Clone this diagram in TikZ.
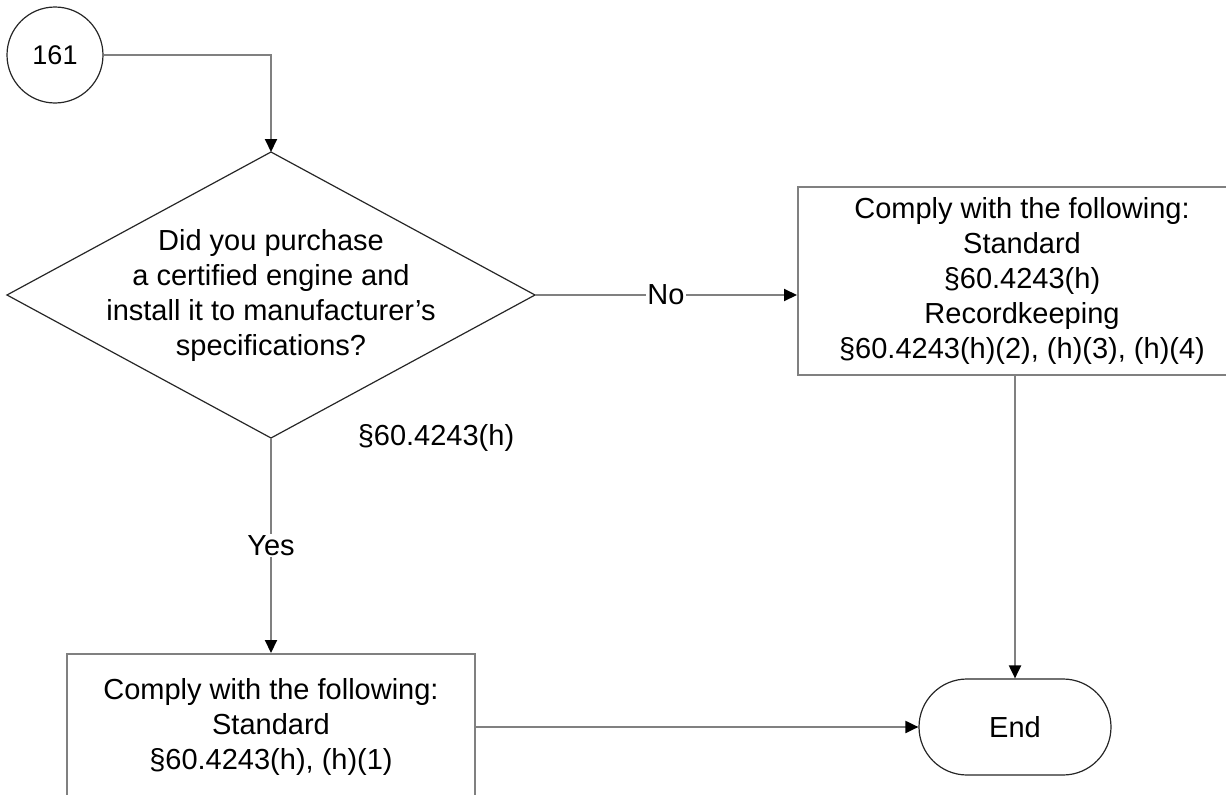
\documentclass[tikz,border=0pt]{standalone}
\usepackage{fontspec}
\setmainfont{Liberation Sans}
\usetikzlibrary{arrows.meta}
\begin{document}
\begin{tikzpicture}[x=1pt,y=-1pt,
  every node/.style={font=\fontsize{29}{35}\selectfont, align=center, inner sep=0pt},
  conn/.style={draw=black!50, line width=2pt},
  arr/.style={conn, -{Triangle[length=13pt,width=12pt,color=black]}},
  shapeline/.style={draw=black!85, line width=1.2pt},
  boxst/.style={draw=black!50, line width=2pt, fill=white},
  endst/.style={shapeline, rounded corners=48pt, minimum width=192pt, minimum height=96pt},
  lbl/.style={fill=white, inner sep=1.5pt}
]
\path[use as bounding box] (0,0) rectangle (1226,795);
\clip (0,0) rectangle (1226,795);

% start connector circle
\node[shapeline, circle, minimum size=96pt, font=\fontsize{27}{32}\selectfont] (start) at (55,55) {161};

% decision diamond
\coordinate (dT) at (271,152);
\coordinate (dR) at (535,295);
\coordinate (dB) at (271,438);
\coordinate (dL) at (7,295);
\draw[shapeline] (dT) -- (dR) -- (dB) -- (dL) -- cycle;
\node (q) at (271,295) {Did you purchase\\a certified engine and\\install it to manufacturer’s\\specifications?};
\node (ref) at (436,438) {§60.4243(h)};

% No box
\node[boxst, minimum width=448pt, minimum height=188pt] (nobox) at (1022,281)
  {Comply with the following:\\Standard\\§60.4243(h)\\Recordkeeping\\§60.4243(h)(2), (h)(3), (h)(4)};

% End
\node[endst] (endn) at (1015,727) {End};

% Yes box
\node[boxst, minimum width=408pt, minimum height=170pt] (yesbox) at (271,739) {};
\node (yestext) at (271,727) {Comply with the following:\\Standard\\§60.4243(h), (h)(1)};

% connectors
\draw[arr] (start.east) -| (dT);
\draw[arr] (dR) -- node[lbl] {No} (nobox.west |- dR);
\draw[arr] (dB) -- node[lbl] {Yes} (yesbox.north);
\draw[arr] (nobox.south -| endn) -- (endn.north);
\draw[arr] (yesbox.east |- endn) -- (endn.west);
\end{tikzpicture}
\end{document}
